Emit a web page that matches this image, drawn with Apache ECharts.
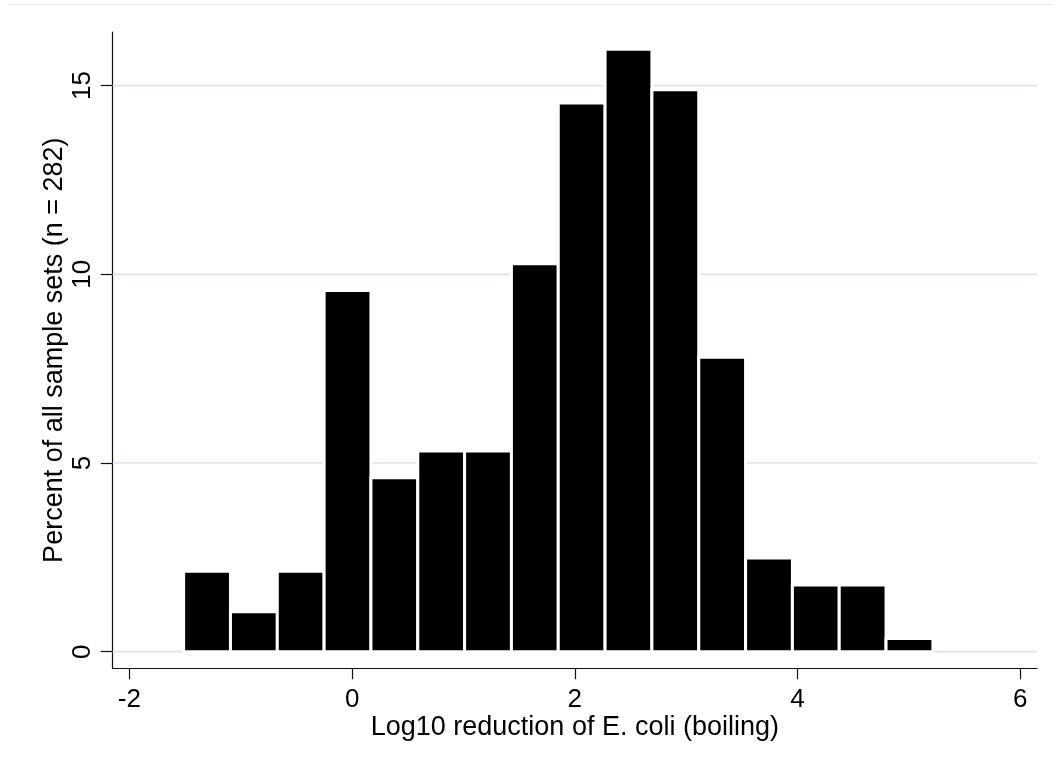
<!DOCTYPE html>
<html>
<head>
<meta charset="utf-8">
<script src="https://cdn.jsdelivr.net/npm/echarts@6/dist/echarts.min.js"></script>
<style>
  html, body { margin: 0; padding: 0; background: #fff; }
  #chart { width: 1053px; height: 771px; }
</style>
</head>
<body>
<div id="chart"></div>
<script>
// Histogram: log10 reduction of E. coli after boiling, as percent of 282 sample sets
const binStart = -1.513;
const binWidth = 0.4205;
const percent = [2.13, 1.06, 2.13, 9.57, 4.61, 5.32, 5.32, 10.28, 14.54, 15.96, 14.89, 7.80, 2.48, 1.77, 1.77, 0.35];
const xTicks = [-2, 0, 2, 4, 6];
const yTicks = [0, 5, 10, 15];
const xTitle = 'Log10 reduction of E. coli (boiling)';
const yTitle = 'Percent of all sample sets (n = 282)';

const FONT = '"Liberation Sans", Arial, Helvetica, sans-serif';

// [left edge, right edge, percent] for each bin
const bins = percent.map((p, i) => [binStart + i * binWidth, binStart + (i + 1) * binWidth, p]);
const gridRows = yTicks.map(v => [0, v]);

const chart = echarts.init(document.getElementById('chart'), null, { renderer: 'canvas' });

chart.setOption({
  animation: false,
  backgroundColor: '#fff',
  grid: { left: 112.7, right: 16, top: 32, bottom: 102.7, containLabel: false },
  graphic: [{
    type: 'line',
    shape: { x1: 8, y1: 4.5, x2: 1053, y2: 4.5 },
    style: { stroke: '#e6e9f2', lineWidth: 1 },
    silent: true
  }],
  xAxis: {
    type: 'value',
    min: -2.15,
    max: 6.15,
    splitLine: { show: false },
    axisLine: { onZero: false, lineStyle: { color: '#111', width: 1.2 } },
    axisTick: { customValues: xTicks, length: 11, lineStyle: { color: '#111', width: 1.2 } },
    axisLabel: { customValues: xTicks, fontSize: 26, color: '#000', fontFamily: FONT, margin: 19 },
    name: xTitle,
    nameLocation: 'middle',
    nameGap: 46,
    nameMoveOverlap: false,
    nameTextStyle: { fontSize: 27, color: '#000', fontFamily: FONT }
  },
  yAxis: {
    type: 'value',
    min: -0.44,
    max: 16.42,
    splitLine: { show: false },
    axisLine: { onZero: false, lineStyle: { color: '#111', width: 1.2 } },
    axisTick: { customValues: yTicks, length: 12, lineStyle: { color: '#111', width: 1.2 } },
    axisLabel: { customValues: yTicks, rotate: 90, fontSize: 26, color: '#000', fontFamily: FONT, margin: 17 },
    name: yTitle,
    nameLocation: 'middle',
    nameGap: 45,
    nameMoveOverlap: false,
    nameTextStyle: { fontSize: 27, color: '#000', fontFamily: FONT }
  },
  series: [
    {
      // horizontal grid lines behind the bars
      type: 'custom',
      z: 1,
      silent: true,
      clip: false,
      data: gridRows,
      encode: { x: 0, y: 1 },
      renderItem(params, api) {
        const cs = params.coordSys;
        const y = api.coord([0, api.value(1)])[1];
        return {
          type: 'line',
          shape: { x1: cs.x, y1: y, x2: cs.x + cs.width, y2: y },
          style: { stroke: '#dce2f0', lineWidth: 1.7 }
        };
      }
    },
    {
      type: 'custom',
      z: 2,
      data: bins,
      encode: { x: [0, 1], y: 2 },
      renderItem(params, api) {
        const p0 = api.coord([api.value(0), 0]);
        const p1 = api.coord([api.value(1), api.value(2)]);
        return {
          type: 'rect',
          shape: { x: p0[0], y: p1[1], width: p1[0] - p0[0], height: p0[1] - p1[1] },
          style: { fill: '#000', stroke: '#fff', lineWidth: 3 }
        };
      }
    }
  ]
});
</script>
</body>
</html>
